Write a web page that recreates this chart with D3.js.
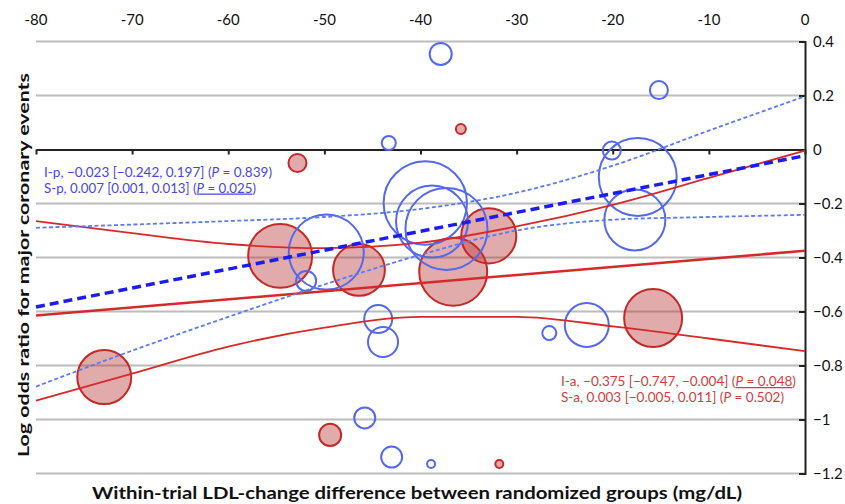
<!doctype html>
<html>
<head>
	<meta charset="UTF-8">
	<title>Log odds ratio vs LDL-change difference</title>
	<script src="https://d3js.org/d3.v7.min.js"></script>
	<style>
		body { margin: 0; background: #fff; }
		text { font-family: Lato, "Open Sans", sans-serif; }
	</style>
</head>
<body>
	<script>
		// axis ticks
		var xTicks = [-80, -70, -60, -50, -40, -30, -20, -10, 0];
		var yTicks = [0.4, 0.2, 0, -0.2, -0.4, -0.6, -0.8, -1, -1.2];

		// red trials (filled bubbles): LDL difference, log OR, weight
		var redX    = [-52.8, -35.8, -54.6, -46.4, -36.6, -32.9, -15.8, -72.9, -49.4, -31.8];
		var redY    = [-0.05, 0.076, -0.394, -0.446, -0.453, -0.32, -0.624, -0.843, -1.057, -1.165];
		var redSize = [4.6, 1.4, 58, 38, 65.5, 43, 47.7, 41.3, 6.9, 0.9];

		// blue trials (hollow bubbles)
		var blueX    = [-37.9, -15.2, -43.3, -20.1, -17.4, -17.7, -39.5, -38.8, -37.3, -49.8, -51.9, -44.4, -43.9, -26.6, -22.7, -45.8, -43.0, -38.9];
		var blueY    = [0.354, 0.22, 0.024, -0.004, -0.102, -0.261, -0.198, -0.267, -0.294, -0.38, -0.487, -0.628, -0.713, -0.68, -0.65, -0.994, -1.139, -1.165];
		var blueSize = [6.9, 4.6, 2.8, 4.6, 86, 52.7, 98.6, 73.5, 95.3, 79.7, 5.7, 11.1, 12.8, 2.8, 27.4, 6.25, 6.25, 0.9];

		// fitted lines (end points)
		var fitX     = [-80, 0];
		var redFitY  = [-0.615, -0.375];
		var blueFitY = [-0.583, -0.023];

		// confidence bands
		var ciX       = [-80, -70, -60, -50, -40, -30, -20, -10, 0];
		var redUpper  = [-0.265, -0.31, -0.35, -0.365, -0.345, -0.285, -0.205, -0.105, -0.004];
		var redLower  = [-0.93, -0.83, -0.73, -0.66, -0.62, -0.62, -0.655, -0.70, -0.747];
		var blueUpper = [-0.29, -0.278, -0.265, -0.25, -0.22, -0.16, -0.06, 0.07, 0.197];
		var blueLower = [-0.878, -0.745, -0.62, -0.50, -0.39, -0.30, -0.26, -0.25, -0.242];

		var width = 845, height = 504;

		var x = d3.scaleLinear().domain([-80, 0]).range([36, 805]);
		var y = d3.scaleLinear().domain([0.4, -1.2]).range([41.5, 473.5]);
		var r = d3.scaleSqrt().domain([0, 100]).range([0, 42]);

		var svg = d3.select("body")
			.append("svg")
				.attr("width", width)
				.attr("height", height);

		// horizontal gridlines
		svg.append("g")
			.selectAll("line")
			.data(yTicks.filter(function(d) { return d !== 0; }))
			.enter().append("line")
				.attr("x1", x(-80))
				.attr("x2", x(0))
				.attr("y1", function(d) { return y(d); })
				.attr("y2", function(d) { return y(d); })
				.attr("stroke", "#bcbcbc")
				.attr("stroke-width", 2);

		// x axis sitting on y = 0, ticks downwards, labels at the top
		var xAxis = svg.append("g")
			.attr("transform", "translate(0," + y(0) + ")")
			.call(d3.axisBottom(x).tickValues(xTicks).tickSize(5).tickSizeOuter(0).tickFormat(""));
		xAxis.select(".domain").attr("stroke", "#222").attr("stroke-width", 2);
		xAxis.selectAll(".tick line").attr("stroke", "#222").attr("stroke-width", 2);

		svg.append("g")
			.selectAll("text")
			.data(xTicks)
			.enter().append("text")
				.attr("x", function(d) { return x(d); })
				.attr("y", 25)
				.attr("text-anchor", "middle")
				.style("font-size", "15px")
				.attr("fill", "#111")
				.text(function(d) { return d; });

		// right y axis
		var yAxis = svg.append("g")
			.attr("transform", "translate(" + x(0) + ",0)")
			.call(d3.axisRight(y).tickValues(yTicks).tickSize(-6).tickSizeOuter(-6).tickPadding(14)
				.tickFormat(function(d) { return d3.format("")(+d.toFixed(1)); }));
		yAxis.select(".domain").attr("stroke", "#222").attr("stroke-width", 2);
		yAxis.selectAll(".tick line").attr("stroke", "#222").attr("stroke-width", 2);
		yAxis.selectAll(".tick text")
			.attr("text-anchor", "start")
			.attr("x", 8)
			.style("font-size", "15px")
			.style("font-family", "Lato, sans-serif")
			.attr("fill", "#111");

		// red bubbles
		svg.append("g")
			.selectAll("circle")
			.data(redX)
			.enter().append("circle")
				.attr("cx", function(d) { return x(d); })
				.attr("cy", function(d, i) { return y(redY[i]); })
				.attr("r", function(d, i) { return r(redSize[i]); })
				.attr("fill", "rgba(185,55,55,0.42)")
				.attr("stroke", "#c42828")
				.attr("stroke-width", 2);

		// blue bubbles
		svg.append("g")
			.selectAll("circle")
			.data(blueX)
			.enter().append("circle")
				.attr("cx", function(d) { return x(d); })
				.attr("cy", function(d, i) { return y(blueY[i]); })
				.attr("r", function(d, i) { return r(blueSize[i]); })
				.attr("fill", "none")
				.attr("stroke", "#5468ee")
				.attr("stroke-width", 2);

		var band = d3.line()
			.x(function(d, i) { return x(ciX[i]); })
			.y(function(d) { return y(d); })
			.curve(d3.curveMonotoneX);

		var fit = d3.line()
			.x(function(d, i) { return x(fitX[i]); })
			.y(function(d) { return y(d); });

		// red fit and band
		svg.append("path")
			.attr("d", band(redUpper))
			.attr("fill", "none").attr("stroke", "#d62a2a").attr("stroke-width", 1.8);
		svg.append("path")
			.attr("d", band(redLower))
			.attr("fill", "none").attr("stroke", "#d62a2a").attr("stroke-width", 1.8);
		svg.append("path")
			.attr("d", fit(redFitY))
			.attr("fill", "none").attr("stroke", "#d62a2a").attr("stroke-width", 2.5);

		// blue fit and band
		svg.append("path")
			.attr("d", band(blueUpper))
			.attr("fill", "none").attr("stroke", "#5b7af2").attr("stroke-width", 1.8)
			.attr("stroke-dasharray", "4,2.5");
		svg.append("path")
			.attr("d", band(blueLower))
			.attr("fill", "none").attr("stroke", "#5b7af2").attr("stroke-width", 1.8)
			.attr("stroke-dasharray", "4,2.5");
		svg.append("path")
			.attr("d", fit(blueFitY))
			.attr("fill", "none").attr("stroke", "#1c1cf0").attr("stroke-width", 3.5)
			.attr("stroke-dasharray", "9,5");

		// annotation text helper
		function note(px, py, len, color, parts) {
			var t = svg.append("text")
				.attr("x", px)
				.attr("y", py)
				.attr("fill", color)
				.attr("textLength", len)
				.attr("lengthAdjust", "spacingAndGlyphs")
				.style("font-size", "12.5px");
			parts.forEach(function(p) {
				var s = t.append("tspan").text(p.t);
				if (p.i) s.style("font-style", "italic");
				if (p.u) s.style("text-decoration", "underline");
			});
		}

		note(44, 177, 228, "#4646e4", [
			{t: "I-p, \u22120.023 [\u22120.242, 0.197] ("}, {t: "P", i: 1}, {t: " = 0.839)"}]);
		note(44, 192.5, 212, "#4646e4", [
			{t: "S-p, 0.007 [0.001, 0.013] ("}, {t: "P", i: 1, u: 1}, {t: " = 0.025", u: 1}, {t: ")"}]);
		note(561, 386, 235, "#d23c3c", [
			{t: "I-a, \u22120.375 [\u22120.747, \u22120.004] ("}, {t: "P", i: 1, u: 1}, {t: " = 0.048", u: 1}, {t: ")"}]);
		note(561, 401.5, 223, "#d23c3c", [
			{t: "S-a, 0.003 [\u22120.005, 0.011] ("}, {t: "P", i: 1}, {t: " = 0.502)"}]);

		// axis titles
		svg.append("text")
			.attr("x", 417)
			.attr("y", 499)
			.attr("text-anchor", "middle")
			.style("font-size", "17px")
			.style("font-weight", "bold")
			.attr("fill", "#111")
			.attr("textLength", 650)
			.attr("lengthAdjust", "spacingAndGlyphs")
			.text("Within-trial LDL-change difference between randomized groups (mg/dL)");

		svg.append("text")
			.attr("transform", "translate(29,265) rotate(-90)")
			.attr("text-anchor", "middle")
			.style("font-size", "16px")
			.style("font-weight", "bold")
			.attr("fill", "#111")
			.attr("textLength", 384)
			.attr("lengthAdjust", "spacingAndGlyphs")
			.text("Log odds ratio for major coronary events");
	</script>
</body>
</html>
